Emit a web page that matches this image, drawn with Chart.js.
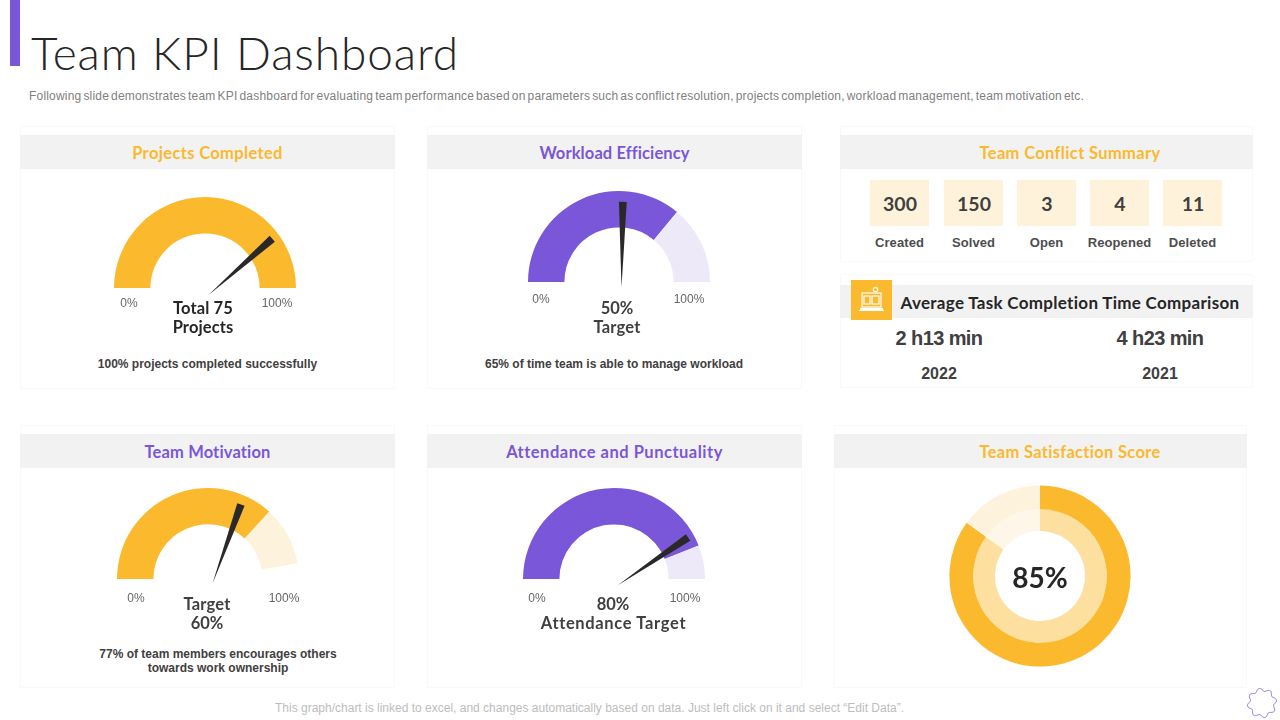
<!DOCTYPE html>
<html><head><meta charset="utf-8">
<style>
html,body{margin:0;padding:0;background:#fff;width:1280px;height:720px;overflow:hidden}
#page{position:relative;width:1280px;height:720px;overflow:hidden}
.abs{position:absolute}
.t{position:absolute;white-space:nowrap;transform:translate(-50%,-50%);line-height:1}
.card{position:absolute;box-sizing:border-box;border:1px solid #f9f9f9}
.hd{position:absolute;background:#f2f2f2}
.gt{font-family:"Lato",sans-serif;font-weight:700}
.ar{font-family:"Liberation Sans",Arial,sans-serif}
canvas{position:absolute;display:block}
</style>
<script src="https://cdn.jsdelivr.net/npm/chart.js@4/dist/chart.umd.min.js"></script>
</head><body><div id="page"></div>
<script>
const AMBER='#FBB92D',AMBER_LIGHT='#FDF3DC',PURPLE='#7A57D8',PURPLE_LIGHT='#EEE9F9',INK='#2B2829';

const projectsGauge=[100,0,0];
const workloadGauge=[72,28,0];
const motivationGauge=[73.5,21,5.5];
const attendanceGauge=[88,12,0];
const needleValues=[77,50.5,61,81];
const satisfactionOuter=[85,15];
const satisfactionInner=[85,15];
const conflictLabels=['Created','Solved','Open','Reopened','Deleted'];
const conflictValues=[300,150,3,4,11];
const timeLabels=['2022','2021'];
const timeValues=['2 h13 min','4 h23 min'];

const page=document.getElementById('page');
function el(cls,css,txt){const d=document.createElement('div');d.className=cls;Object.assign(d.style,css);if(txt!==undefined)d.textContent=txt;page.appendChild(d);return d;}
function box(cls,x,y,w,h,bg){return el(cls,{left:x+'px',top:y+'px',width:w+'px',height:h+'px',background:bg||''});}
function text(s,x,y,font,size,color,weight,ls){return el('t '+font,{left:x+'px',top:y+'px',fontSize:size+'px',color:color,fontWeight:weight||'',letterSpacing:(ls||0)+'px'},s);}

box('abs',10,0,10,66,PURPLE);
text('Team KPI Dashboard',245,53,'gt',46,'#262626',300,0.9);
text('Following slide demonstrates team KPI dashboard for evaluating team performance based on parameters such as conflict resolution, projects completion, workload management, team motivation etc.',556.5,96,'ar',12,'#808080',400,0.19).style.wordSpacing='-1.5px';
text('This graph/chart is linked to excel,  and changes automatically based on data. Just left click on it and select “Edit Data”.',589.5,707.5,'ar',12,'#BDBDBD',400,0);

const cards=[
 {x:20,y:126,w:375,h:263,hy:135,title:'Projects  Completed',c:AMBER,tx:207.5,ls:0.35},
 {x:427,y:126,w:375,h:263,hy:135,title:'Workload Efficiency',c:PURPLE,tx:614.5,ls:0.1},
 {x:840,y:126,w:413,h:136,hy:135,title:'Team Conflict  Summary',c:AMBER,tx:1070,ls:0.35},
 {x:840,y:274,w:413,h:114,hy:285,title:'Average Task  Completion Time Comparison',c:'#262626',tx:1070,ls:0.3},
 {x:20,y:425,w:375,h:263,hy:434,title:'Team Motivation',c:PURPLE,tx:207.5,ls:0.15},
 {x:427,y:425,w:375,h:263,hy:434,title:'Attendance and Punctuality',c:PURPLE,tx:614.5,ls:0.5},
 {x:834,y:425,w:413,h:263,hy:434,title:'Team Satisfaction  Score',c:AMBER,tx:1070,ls:0.3}
];
cards.forEach(c=>{
 box('card',c.x,c.y,c.w,c.h);
 box('hd',c.x,c.hy,c.w,c.hy===285?33:34);
 text(c.title,c.tx,c.hy+(c.hy===285?16.5:17.5),'gt',c.hy===285?17:16.5,c.c,700,c.ls);
});

const needlePlugin={id:'needle',afterDatasetsDraw(chart,args,o){
 if(o.value===undefined)return;
 const a=chart.getDatasetMeta(0).data[0];
 const px=a.x+o.dx,py=a.y+o.dy;
 const th=Math.PI*(1-o.value/100);
 const ux=Math.cos(th),uy=-Math.sin(th);
 const nx=-uy,ny=ux,L=o.len,hw=o.hw;
 const ctx=chart.ctx;
 ctx.save();ctx.fillStyle=INK;ctx.beginPath();
 ctx.moveTo(px,py);
 ctx.lineTo(px+ux*L+nx*hw,py+uy*L+ny*hw);
 ctx.lineTo(px+ux*L-nx*hw,py+uy*L-ny*hw);
 ctx.closePath();ctx.fill();ctx.restore();
}};
Chart.register(needlePlugin);

function gauge(cx,by,R,data,colors,needleIdx,dx,dy,len){
 const pad=22;
 const cv=document.createElement('canvas');
 const w=2*R+2*pad,h=R+2*pad;
 cv.style.left=(cx-R-pad)+'px';cv.style.top=(by-R-pad)+'px';
 cv.style.width=w+'px';cv.style.height=h+'px';cv.width=w;cv.height=h;
 page.appendChild(cv);
 new Chart(cv,{type:'doughnut',
  data:{labels:['Achieved','Remaining','Blank'],datasets:[{data:data,backgroundColor:colors.concat('rgba(0,0,0,0)'),borderWidth:0}]},
  options:{responsive:false,animation:false,rotation:-90,circumference:180,cutout:'60%',
   layout:{padding:pad},
   plugins:{legend:{display:false},tooltip:{enabled:false},
    needle:{value:needleValues[needleIdx],dx:dx,dy:dy,len:len,hw:3.9}}}});
}
gauge(204.5,288,91,projectsGauge,[AMBER,AMBER_LIGHT],0,3.5,7,85);
gauge(618.5,282,91,workloadGauge,[PURPLE,PURPLE_LIGHT],1,2.5,5.5,85.6);
gauge(208,579,91,motivationGauge,[AMBER,AMBER_LIGHT],2,4.5,4.5,84);
gauge(613.5,579,91,attendanceGauge,[PURPLE,PURPLE_LIGHT],3,3.8,6.3,85);

(function(){
 const cv=document.createElement('canvas');
 cv.style.left='940px';cv.style.top='476px';cv.style.width='200px';cv.style.height='200px';cv.width=200;cv.height=200;
 page.appendChild(cv);
 new Chart(cv,{type:'doughnut',
  data:{labels:['Satisfied','Other'],datasets:[
   {data:satisfactionOuter,backgroundColor:[AMBER,AMBER_LIGHT],borderWidth:0,weight:23.8},
   {data:satisfactionInner,backgroundColor:['#FDDF9F','#FEF7E9'],borderWidth:0,weight:21.7}]},
  options:{responsive:false,animation:false,cutout:'49.7%',layout:{padding:9.4},
   plugins:{legend:{display:false},tooltip:{enabled:false}}}});
})();

const sc='#666666';
[[129,302.5,'0%'],[277,302.5,'100%'],[541,298.5,'0%'],[689,298.5,'100%'],[136,597.5,'0%'],[284,597.5,'100%'],[537,597.5,'0%'],[685,597.5,'100%']]
 .forEach(a=>text(a[2],a[0],a[1],'ar',12,sc));
const lab='#262626';
text('Total 75',203,308,'gt',16.5,lab,700,0.1);text('Projects',203,327,'gt',16.5,lab,700,0.1);
text('50%',617,308,'gt',16.5,'#404040',700);text('Target',617,327,'gt',16.5,'#404040',700,0.2);
text('Target',207,604,'gt',16.5,'#404040',700,0.2);text('60%',207,623,'gt',16.5,'#404040',700);
text('80%',613,604,'gt',16.5,'#404040',700);text('Attendance Target',613.5,623,'gt',16.5,'#404040',700,0.65);
text('85%',1040,576.5,'gt',28,'#262626',700);

const nc='#404040';
text('100% projects completed successfully',207.5,364,'ar',12,nc,700);
text('65% of time team is able to manage workload',614,364,'ar',12,nc,700);
text('77% of team members encourages others',218,654,'ar',12,nc,700);
text('towards work ownership',218,668,'ar',12,nc,700);

const bx=[870,944,1017,1090,1163];
conflictValues.forEach((v,i)=>{
 box('abs',bx[i],180,59,46,'#FEF3DA');
 text(String(v),bx[i]+30,203.5,'gt',19.5,'#404040',700);
 text(conflictLabels[i],bx[i]+29.5,242,'ar',13,'#4d4d4d',700,0.1);
});
[939,1160].forEach((x,i)=>{
 text(timeValues[i],x,337.5,'ar',20,'#404040',700,-0.6);
 text(timeLabels[i],x,373.5,'ar',16,'#404040',700);
});

const ic=document.createElementNS('http://www.w3.org/2000/svg','svg');
ic.setAttribute('width','41');ic.setAttribute('height','40');
ic.setAttribute('style','position:absolute;left:851px;top:280px');
ic.innerHTML='<rect width="41" height="40" fill="#FBB92D"/><g fill="none" stroke="#fff" stroke-width="1.2"><rect x="11" y="13" width="19" height="14"/><rect x="13" y="16" width="6" height="8"/><rect x="21" y="16" width="7" height="8"/><circle cx="24.5" cy="9.5" r="2.2"/></g><rect x="9" y="28" width="23" height="2" fill="#fff"/><rect x="8" y="30" width="25" height="1" fill="#fff"/>';
page.appendChild(ic);

const gr=document.createElementNS('http://www.w3.org/2000/svg','svg');
gr.setAttribute('width','34');gr.setAttribute('height','34');
gr.setAttribute('style','position:absolute;left:1245px;top:686px');
let d='';
for(let i=0;i<=160;i++){const a=i/160*2*Math.PI,r=13.3+1.5*Math.cos(8*a+Math.PI/2);
 d+=(i?'L':'M')+(17+r*Math.cos(a)).toFixed(2)+' '+(17+r*Math.sin(a)).toFixed(2);}
gr.innerHTML='<path d="'+d+'Z" fill="none" stroke="#7A57D8" stroke-width="0.8"/>';
page.appendChild(gr);
</script></body></html>
